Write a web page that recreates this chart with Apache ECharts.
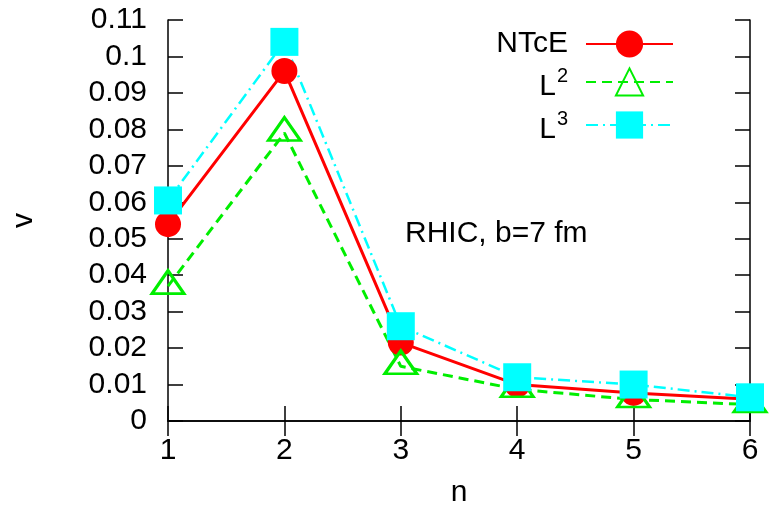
<!DOCTYPE html>
<html>
<head>
<meta charset="utf-8">
<script src="https://cdn.jsdelivr.net/npm/echarts@6/dist/echarts.min.js"></script>
<style>
  html, body { margin: 0; padding: 0; background: #fff; }
  #chart { width: 771px; height: 508px; }
</style>
</head>
<body>
<div id="chart"></div>
<script>
// Harmonic order n and flow coefficient v for three models
const harmonics = [1, 2, 3, 4, 5, 6];
const vNTcE = [0.054, 0.096, 0.0215, 0.010, 0.0077, 0.006];
const vL2 = [0.037, 0.079, 0.015, 0.0087, 0.0059, 0.0045];
const vL3 = [0.0605, 0.104, 0.026, 0.012, 0.010, 0.0065];
const seriesNames = ['NTcE', 'L2', 'L3'];
const annotation = 'RHIC, b=7 fm';

const FONT = 'Liberation Sans';
const FS = 30;
const INK = '#000';

function pairs(values) {
  return harmonics.map((n, i) => [n, values[i]]);
}

const chart = echarts.init(document.getElementById('chart'), null, { renderer: 'canvas' });

const axisLine = { show: true, lineStyle: { color: '#000', width: 1.5 } };
const axisTick = { show: true, inside: true, length: 15, lineStyle: { color: '#000', width: 1.5 } };
const axisLabel = { fontFamily: FONT, fontSize: FS, color: INK };

// "L2" -> L with superscript 2; plain names stay as they are
function legendLabel(name) {
  if (name === 'NTcE') return '{p|' + name + '}';
  return '{b|' + name[0] + '}{s|' + name.slice(1) + '}';
}

chart.setOption({
  animation: false,
  backgroundColor: '#fff',
  grid: {
    left: 168, right: 21, top: 20, bottom: 87,
    containLabel: false, outerBoundsMode: 'none'
  },
  xAxis: [
    {
      type: 'value', min: 1, max: 6, interval: 1, position: 'bottom',
      name: 'n', nameLocation: 'middle', nameGap: 57,
      nameTextStyle: { fontFamily: FONT, fontSize: FS, color: INK },
      axisLine, axisTick, splitLine: { show: false },
      axisLabel: Object.assign({ margin: 15 }, axisLabel)
    },
    {
      type: 'value', min: 1, max: 6, interval: 1, position: 'top',
      axisLine, axisTick, splitLine: { show: false }, axisLabel: { show: false }
    }
  ],
  yAxis: [
    {
      type: 'value', min: 0, max: 0.11, interval: 0.01, position: 'left',
      name: 'v', nameLocation: 'middle', nameGap: 129, nameRotate: 90,
      nameTextStyle: { fontFamily: FONT, fontSize: FS, color: INK },
      axisLine, axisTick, splitLine: { show: false },
      axisLabel: Object.assign({
        margin: 21,
        formatter: v => String(parseFloat(v.toFixed(2)))
      }, axisLabel)
    },
    {
      type: 'value', min: 0, max: 0.11, interval: 0.01, position: 'right',
      axisLine, axisTick, splitLine: { show: false }, axisLabel: { show: false }
    }
  ],
  legend: {
    orient: 'vertical',
    align: 'right',
    right: 92,
    top: 24,
    itemWidth: 87,
    itemHeight: 34,
    itemGap: 7,
    data: seriesNames,
    formatter: legendLabel,
    textStyle: {
      fontFamily: FONT, fontSize: FS, color: INK,
      rich: {
        p: { fontFamily: FONT, fontSize: FS, color: INK, padding: [5, 13, 5, 0] },
        b: { fontFamily: FONT, fontSize: FS, color: INK, padding: [10, 0, 0, 0] },
        s: { fontFamily: FONT, fontSize: 20, color: INK, verticalAlign: 'top', padding: [4, 13, 0, 1] }
      }
    }
  },
  graphic: [
    {
      type: 'text', left: 405, top: 219,
      style: { text: annotation, fontFamily: FONT, fontSize: FS, fill: INK }
    }
  ],
  series: [
    {
      name: 'NTcE', type: 'line', data: pairs(vNTcE), clip: false,
      symbol: 'circle', symbolSize: 26,
      lineStyle: { color: '#ff0000', width: 3 },
      itemStyle: { color: '#ff0000' }
    },
    {
      name: 'L2', type: 'line', data: pairs(vL2), clip: false,
      symbol: 'triangle', symbolSize: [32, 23], symbolOffset: [0, -4],
      lineStyle: { color: '#00ee00', width: 3, type: [10, 6] },
      itemStyle: { color: 'rgba(0,0,0,0)', borderColor: '#00ee00', borderWidth: 3 }
    },
    {
      name: 'L3', type: 'line', data: pairs(vL3), clip: false,
      symbol: 'rect', symbolSize: 28,
      lineStyle: { color: '#00ffff', width: 2.5, type: [12, 5, 2, 5] },
      itemStyle: { color: '#00ffff' }
    }
  ]
});
</script>
</body>
</html>
